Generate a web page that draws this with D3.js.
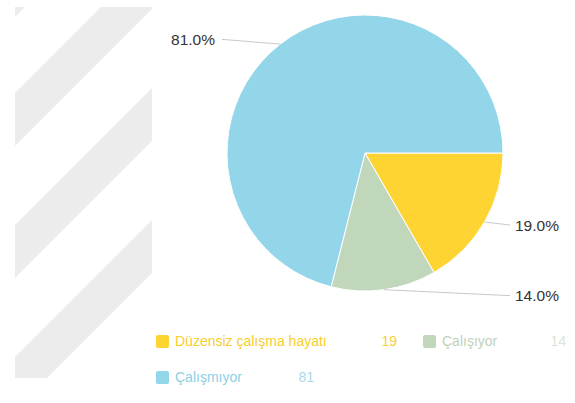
<!DOCTYPE html>
<html>
<head>
<meta charset="utf-8">
<script src="https://cdn.jsdelivr.net/npm/d3@7"></script>
<style>
  html, body { margin: 0; padding: 0; background: #fff; }
  svg { display: block; font-family: "Liberation Sans", Arial, Helvetica, sans-serif; }
</style>
</head>
<body>
<svg id="chart" width="575" height="403"></svg>
<script>
// Employment status breakdown
const categories = ["Düzensiz çalışma hayatı", "Çalışıyor", "Çalışmıyor"];
const values = [19, 14, 81];
const sliceColors = ["#fdd431", "#c1d7bc", "#93d5e9"];
const legendTextColors = ["#f8cd2c", "#bfd1ba", "#8ecfe5"];
const legendValueColors = ["#f8cf33", "#dbe4d8", "#a6daeb"];

const W = 575, H = 403;
const svg = d3.select("#chart");

// Hatched side panel
const panel = { x: 15, y: 7, w: 137, h: 371 };
svg.append("clipPath").attr("id", "panelClip")
  .append("rect").attr("x", panel.x).attr("y", panel.y).attr("width", panel.w).attr("height", panel.h);
const bandStarts = [-21, 108, 240, 372];
const bandWidth = 53;
svg.append("g").attr("clip-path", "url(#panelClip)")
  .selectAll("polygon").data(bandStarts).join("polygon")
  .attr("fill", "#ececec")
  .attr("points", a => {
    const b = a + bandWidth, y0 = 0, y1 = H;
    return [[a - y0, y0], [b - y0, y0], [b - y1, y1], [a - y1, y1]].map(p => p.join(",")).join(" ");
  });

// Pie
const cx = 365, cy = 153, r = 138;
const pie = d3.pie().sort(null).value(d => d)
  .startAngle(Math.PI / 2).endAngle(Math.PI / 2 + 2 * Math.PI);
const arcs = pie(values);
const arc = d3.arc().innerRadius(0).outerRadius(r);

const g = svg.append("g").attr("transform", `translate(${cx},${cy})`);
g.selectAll("path").data(arcs).join("path")
  .attr("d", arc)
  .attr("fill", (d, i) => sliceColors[i])
  .attr("stroke", "#ffffff")
  .attr("stroke-width", 1);

// Leader lines and percentage labels
const fmt = d3.format(".1f");
arcs.forEach((d, i) => {
  const a = (d.startAngle + d.endAngle) / 2;
  const px = r * Math.sin(a), py = -r * Math.cos(a);
  const right = Math.sin(a) >= 0;
  const lx = right ? r + 7 : -(r + 5);
  const ly = -(r + 6) * Math.cos(a);
  g.append("line")
    .attr("x1", px).attr("y1", py).attr("x2", lx).attr("y2", ly)
    .attr("stroke", "#c9c9c9").attr("stroke-width", 1);
  g.append("text")
    .attr("x", right ? lx + 5 : lx - 7)
    .attr("y", ly)
    .attr("dy", "0.36em")
    .attr("text-anchor", right ? "start" : "end")
    .attr("fill", "#333")
    .attr("font-size", 15.5)
    .text(fmt(values[i]) + "%");
});

// Legend
const legendPos = [
  { x: 156, y: 346, valueEnd: 397 },
  { x: 423, y: 346, valueEnd: 566 },
  { x: 156, y: 382, valueEnd: 314 }
];
const legend = svg.append("g");
categories.forEach((c, i) => {
  const p = legendPos[i];
  legend.append("rect")
    .attr("x", p.x).attr("y", p.y - 11).attr("width", 13).attr("height", 13)
    .attr("rx", 2).attr("fill", sliceColors[i]);
  legend.append("text")
    .attr("x", p.x + 19).attr("y", p.y)
    .attr("font-size", 14).attr("fill", legendTextColors[i])
    .text(c);
  legend.append("text")
    .attr("x", p.valueEnd).attr("y", p.y)
    .attr("text-anchor", "end")
    .attr("font-size", 14).attr("fill", legendValueColors[i])
    .text(values[i]);
});
</script>
</body>
</html>
